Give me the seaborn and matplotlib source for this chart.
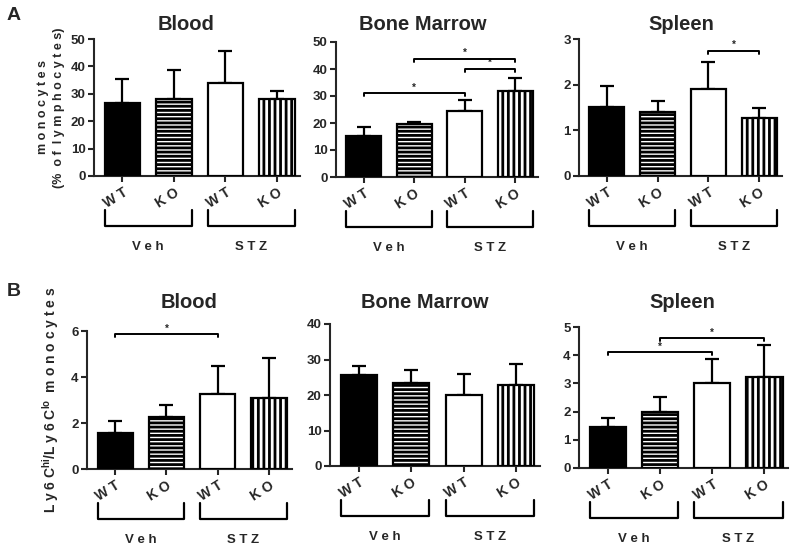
import numpy as np
import pandas as pd
import matplotlib
matplotlib.use('Agg')
import matplotlib.pyplot as plt
import matplotlib.transforms as mtrans
import seaborn as sns

# data (mean, upper SEM)
groups = ['Veh WT', 'Veh KO', 'STZ WT', 'STZ KO']
tick_labels = ['W T', 'K O', 'W T', 'K O']

a_blood = [26.5, 28.0, 34.0, 28.0]
a_blood_err = [9.0, 10.7, 11.8, 3.0]
a_bm = [15.3, 19.7, 24.6, 32.0]
a_bm_err = [3.2, 0.8, 4.1, 4.6]
a_spleen = [1.52, 1.40, 1.90, 1.27]
a_spleen_err = [0.46, 0.25, 0.60, 0.22]

b_blood = [1.55, 2.28, 3.27, 3.10]
b_blood_err = [0.55, 0.50, 1.23, 1.73]
b_bm = [25.6, 23.3, 20.0, 22.9]
b_bm_err = [2.7, 3.7, 5.8, 5.9]
b_spleen = [1.47, 2.00, 3.02, 3.23]
b_spleen_err = [0.31, 0.52, 0.85, 1.12]

# significance bars: (from bar, to bar, height)
a_bm_sig = [(0, 2, 31.0), (1, 3, 43.7), (2, 3, 40.0)]
a_spleen_sig = [(2, 3, 2.74)]
b_blood_sig = [(0, 2, 5.85)]
b_spleen_sig = [(0, 2, 4.1), (1, 3, 4.6)]

sns.set_style('ticks')
plt.rcParams['font.family'] = ['Liberation Sans', 'DejaVu Sans']
plt.rcParams['font.weight'] = 'bold'
plt.rcParams['mathtext.fontset'] = 'custom'
plt.rcParams['mathtext.rm'] = 'Liberation Sans:bold'
plt.rcParams['mathtext.bf'] = 'Liberation Sans:bold'
plt.rcParams['hatch.linewidth'] = 2.0
plt.rcParams['hatch.color'] = 'black'

fig = plt.figure(figsize=(8, 5.53), dpi=100)

W = 800.0
H = 553.0


def make_ax(left, right, top, bottom):
    return fig.add_axes([left / W, 1 - bottom / H, (right - left) / W, (bottom - top) / H])


BW = 0.69
hatches = ['', '----', '', '|||']
colors = ['black', 'white', 'white', 'white']


def panel(ax, vals, errs, title, title_xy, ymax, ystep, sigs=()):
    df = pd.DataFrame({'group': groups, 'value': vals})
    sns.barplot(data=df, x='group', y='value', hue='group', palette=colors,
                order=groups, hue_order=groups, width=BW, errorbar=None,
                edgecolor='black', linewidth=1.6, legend=False, ax=ax, zorder=3)
    for p, h in zip(ax.patches, hatches):
        p.set_hatch(h)
    ax.errorbar(range(4), vals, yerr=[np.zeros(4), errs], fmt='none',
                ecolor='black', elinewidth=1.6, capsize=5, capthick=1.6, zorder=2)
    ax.set_xlim(-0.55, 3.45)
    ax.set_ylim(0, ymax)
    ax.set_yticks(np.arange(0, ymax + ystep / 2, ystep))
    ax.set_xticks(range(4))
    ax.set_xticklabels(tick_labels, rotation=32, ha='right', va='top',
                       rotation_mode='anchor', fontsize=10, fontweight='bold')
    ax.tick_params(axis='y', labelsize=9.5, width=1.5, length=4, pad=2)
    ax.tick_params(axis='x', width=1.5, length=4, pad=3)
    for lab in ax.get_yticklabels():
        lab.set_fontweight('bold')
    ax.set_xlabel('')
    ax.set_ylabel('')
    sns.despine(ax=ax)
    for s in ['left', 'bottom']:
        ax.spines[s].set_linewidth(1.5)
    fig.text(title_xy[0] / W, 1 - title_xy[1] / H, title, fontsize=14.5,
             fontweight='bold', ha='center', va='center')

    # group brackets below the axis
    base = mtrans.blended_transform_factory(ax.transData, ax.transAxes)
    t_top = mtrans.offset_copy(base, fig=fig, y=-34, units='dots')
    t_bot = mtrans.offset_copy(base, fig=fig, y=-50, units='dots')
    t_lab = mtrans.offset_copy(base, fig=fig, y=-71, units='dots')
    for start, name in [(0, 'V e h'), (2, 'S T Z')]:
        x0 = start - BW / 2
        x1 = start + 1 + BW / 2
        p_top0 = t_top.transform((x0, 0))
        p_bot0 = t_bot.transform((x0, 0))
        p_top1 = t_top.transform((x1, 0))
        p_bot1 = t_bot.transform((x1, 0))
        xs = [p_top0[0], p_bot0[0], p_bot1[0], p_top1[0]]
        ys = [p_top0[1], p_bot0[1], p_bot1[1], p_top1[1]]
        fig.add_artist(plt.Line2D(np.array(xs) / fig.bbox.width,
                                  np.array(ys) / fig.bbox.height,
                                  transform=fig.transFigure, color='black', lw=1.6))
        ax.text((x0 + x1) / 2, 0, name, transform=t_lab, ha='center', va='center',
                fontsize=9.5, fontweight='bold', clip_on=False)

    # significance lines
    tick = ymax * 0.02
    for i, j, y in sigs:
        ax.plot([i, i, j, j], [y - tick, y, y, y - tick], color='black', lw=1.4,
                clip_on=False, zorder=4)
        ax.text((i + j) / 2, y + ymax * 0.005, '*', ha='center', va='bottom',
                fontsize=7, fontweight='bold')


ax1 = make_ax(94, 300, 39, 176)
panel(ax1, a_blood, a_blood_err, 'Blood', (186, 25), 50, 10)
ax1.set_ylabel('m o n o c y t e s\n(%  o f  l y m p h o c y t e s)', fontsize=9,
               fontweight='bold', labelpad=4, linespacing=1.5)

ax2 = make_ax(336, 538, 42, 177)
panel(ax2, a_bm, a_bm_err, 'Bone Marrow', (423, 25), 50, 10, a_bm_sig)

ax3 = make_ax(579, 782, 39, 176)
panel(ax3, a_spleen, a_spleen_err, 'Spleen', (681, 25), 3, 1, a_spleen_sig)

ax4 = make_ax(87, 292, 331, 469)
panel(ax4, b_blood, b_blood_err, 'Blood', (189, 303), 6, 2, b_blood_sig)
ax4.set_ylabel(r'L y 6 C$^{\mathbf{hi}}$/L y 6 C$^{\mathbf{lo}}$  m o n o c y t e s',
               fontsize=10, fontweight='bold', labelpad=7)

ax5 = make_ax(330, 540, 324, 466)
panel(ax5, b_bm, b_bm_err, 'Bone Marrow', (425, 302), 40, 10)

ax6 = make_ax(579, 788, 327, 468)
panel(ax6, b_spleen, b_spleen_err, 'Spleen', (682, 302), 5, 1, b_spleen_sig)

fig.text(7 / W, 1 - 16 / H, 'A', fontsize=14, fontweight='bold', va='center')
fig.text(7 / W, 1 - 292 / H, 'B', fontsize=14, fontweight='bold', va='center')

fig.savefig('out.png', dpi=100)
